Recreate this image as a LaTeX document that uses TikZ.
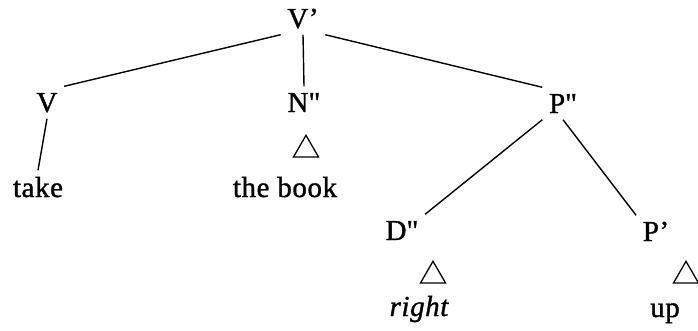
\documentclass[tikz,border=0pt]{standalone}
\usepackage{fontspec}
\setmainfont{Liberation Serif}
\newfontfamily\treefont{Liberation Serif}[Ligatures=ResetAll, FakeBold=1.2, LetterSpace=2]
\usepackage{tikz}
\usetikzlibrary{positioning, shapes.geometric}

\begin{document}
\begin{tikzpicture}[x=1pt, y=-1pt, line width=1.4pt, draw=black]
				\tikzstyle{cat}=[font=\fontsize{29}{34}\treefont, text height=19pt, text depth=0pt, inner sep=6pt, anchor=base]
				\tikzstyle{word}=[font=\fontsize{29}{34}\treefont, text height=20pt, text depth=6pt, inner sep=6pt, anchor=base]
				\tikzstyle{roof}=[regular polygon, regular polygon sides=3, draw, minimum size=29pt, inner sep=0pt, outer sep=0pt, line width=1.3pt]
				\useasboundingbox (0,0) rectangle (698,330);
				
				% Categories
				\node[cat] (Vp) at (303,28) {V’};
				\node[cat] (V) at (47,112) {V};
				\node[cat] (N) at (304,112) {N\textquotedbl};
				\node[cat] (P) at (563,113) {P\textquotedbl};
				\node[cat] (D) at (402,240) {D\textquotedbl};
				\node[cat] (Pp) at (656,241) {P’};
				
				% Words
				\node[word] (take) at (38,197) {take};
				\node[word] (book) at (285,197) {the book};
				\node[word] (right) at (419,316) {\itshape right};
				\node[word] (up) at (665,317) {up};
				
				% Triangles
				\foreach \name / \x / \y in {1/306/149.8, 2/433/275.8, 3/686/275.8}
				\node[roof] (T-\name) at (\x,\y) {};
				
				% Branches
				\draw (Vp.south west) -- (V.north east);
				\draw (Vp.south) -- (N.north);
				\draw (Vp.south east) -- (P.north west);
				\draw (V.south) -- (take.north);
				\draw (P.south west) -- (D.north east);
				\draw (P.south) -- (Pp.north west);
			\end{tikzpicture}
\end{document}
